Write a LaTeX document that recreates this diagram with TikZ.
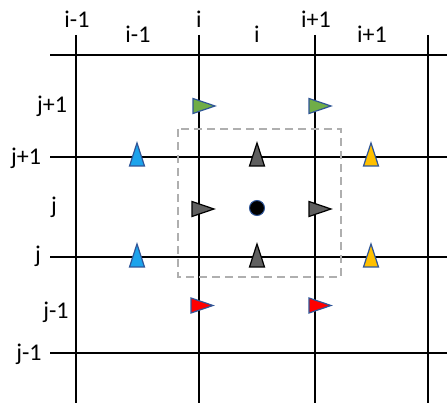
\documentclass[tikz,border=0pt]{standalone}
\usepackage{fontspec}
\setmainfont{Carlito}
\definecolor{tgreen}{HTML}{70AD47}
\definecolor{tblue}{HTML}{1CA3EC}
\definecolor{tyellow}{HTML}{FFC000}
\definecolor{tred}{HTML}{FF0000}
\definecolor{tgray}{HTML}{5F5F5F}
\definecolor{tedge}{HTML}{2F5597}
\definecolor{dashgray}{HTML}{AFAFAF}
\tikzset{
  gridline/.style={line width=1.5pt, black},
  lbl/.style={font=\fontsize{24}{26}\selectfont, anchor=base, inner sep=0pt},
  box/.style={dashgray, line width=2pt, dash pattern=on 8pt off 5pt},
  pics/uptri/.style n args={2}{code={
    \filldraw[fill=#1, draw=#2, line width=1.2pt, line join=miter]
      (-7.5,9) -- (0,-14) -- (7.5,9) -- cycle;}},
  pics/rtri/.style n args={2}{code={
    \filldraw[fill=#1, draw=#2, line width=1.2pt, line join=miter]
      (-6,-7.5) -- (16,0) -- (-6,7.5) -- cycle;}},
}
\begin{document}
\begin{tikzpicture}[x=1pt,y=-1pt]
\useasboundingbox (0,0) rectangle (447,403);
% grid
\foreach \n/\x in {a/76,b/199,c/315,d/428}{
  \coordinate (v\n t) at (\x,35);
  \coordinate (v\n b) at (\x,403);
  \draw[gridline] (v\n t) -- (v\n b);
}
\foreach \n/\y in {a/55,b/157,c/257,d/353}{
  \coordinate (h\n l) at (50,\y);
  \coordinate (h\n r) at (447,\y);
  \draw[gridline] (h\n l) -- (h\n r);
}
% dashed box
\coordinate (boxa) at (178,129);
\coordinate (boxb) at (341,277);
\draw[box] (boxa) rectangle (boxb);
% top labels
\node[lbl] (t1) at (77,28) {i-1};
\node[lbl] (t2) at (199,28) {i};
\node[lbl] (t3) at (316,28) {i+1};
\node[lbl] (t4) at (138,43) {i-1};
\node[lbl] (t5) at (257,43) {i};
\node[lbl] (t6) at (372,43) {i+1};
% left labels
\node[lbl] (l1) at (52,113) {j+1};
\node[lbl] (l2) at (26,165) {j+1};
\node[lbl] (l3) at (54,214) {j};
\node[lbl] (l4) at (38,263) {j};
\node[lbl] (l5) at (56,318) {j-1};
\node[lbl] (l6) at (29,360) {j-1};
% triangles
\pic at (199,106) {rtri={tgreen}{tedge}};
\pic at (315,106) {rtri={tgreen}{tedge}};
\pic at (198,209) {rtri={tgray}{black}};
\pic at (315,209) {rtri={tgray}{black}};
\pic at (197,305.5) {rtri={tred}{tedge}};
\pic at (315,305.5) {rtri={tred}{tedge}};
\pic at (137,157) {uptri={tblue}{tedge}};
\pic at (137,258) {uptri={tblue}{tedge}};
\pic at (257,157) {uptri={tgray}{black}};
\pic at (257,258) {uptri={tgray}{black}};
\pic at (371,157) {uptri={tyellow}{tedge}};
\pic at (371,258) {uptri={tyellow}{tedge}};
% center point
\node[circle, fill=black, draw=tedge, line width=1pt, minimum size=15pt, inner sep=0pt] (ctr) at (257,208) {};
\end{tikzpicture}
\end{document}
